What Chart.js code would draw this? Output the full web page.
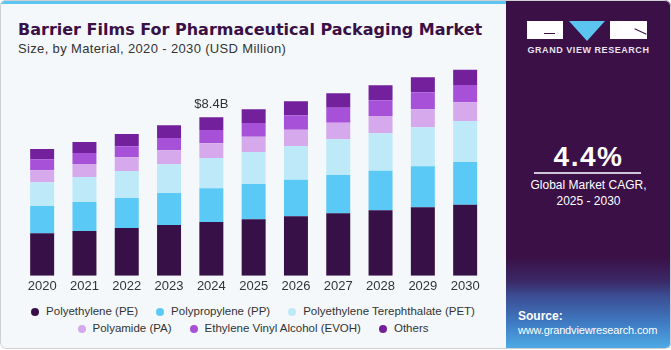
<!DOCTYPE html>
<html>
<head>
<meta charset="utf-8">
<script src="https://cdn.jsdelivr.net/npm/chart.js@4.4.1/dist/chart.umd.min.js"></script>
<style>
  html, body { margin: 0; padding: 0; background: #ffffff; }
  body { width: 671px; height: 350px; overflow: hidden; font-family: "Liberation Sans", Arial, sans-serif; }
  .card { position: absolute; left: 0; top: 0; width: 671px; height: 349px; background: #f4f8fb; border-radius: 6px; overflow: hidden; }
  .frame { position: absolute; left: 0; top: 0; width: 669px; height: 347px; border: 1px solid #cdd1d4; border-radius: 6px; z-index: 5; pointer-events: none; }
  .stripe { position: absolute; left: 0; top: 0; width: 506px; height: 4px; background: #5bc4ef; }
  .title { position: absolute; left: 18px; top: 20px; margin: 0; font-family: "DejaVu Sans", sans-serif; font-size: 16px; font-weight: bold; color: #3a1047; white-space: nowrap; }
  .subtitle { position: absolute; left: 18px; top: 41px; font-size: 13px; letter-spacing: 0.35px; color: #333; white-space: nowrap; }
  #myChart { position: absolute; left: 0; top: 0; }
  .legend { position: absolute; left: 18px; top: 303px; width: 470px; display: flex; flex-wrap: wrap; justify-content: center; column-gap: 18px; }
  .legend .item { display: flex; align-items: center; font-size: 11.5px; line-height: 17px; color: #333; white-space: nowrap; }
  .legend .dot { width: 8px; height: 8px; border-radius: 50%; margin-right: 7px; }
  .side { position: absolute; left: 506px; top: 0; width: 165px; height: 348px; border-radius: 0 6px 0 0;
    background: linear-gradient(to bottom, #3a1047 0%, #3a1047 74%, #3b2a68 81%, #3b4c92 85%, #3f7cc4 93%, #4eaae4 100%); color: #fff; }
  .logo { position: absolute; top: 21px; height: 18px; }
  .g { left: 21px; width: 36px; background: #fff; }
  .g::after { content: ""; position: absolute; left: 17px; top: 12px; width: 11px; height: 1px; background: #3a1047; }
  .v { left: 63px; width: 0; height: 0; border-left: 18px solid transparent; border-right: 18px solid transparent; border-top: 20px solid #5bc4ef; }
  .e { left: 104px; width: 37px; background: #fff; }
  .e::after { content: ""; position: absolute; left: 24px; top: 10px; width: 13px; height: 1px; background: #3a1047; transform: rotate(25deg); }
  .brand { position: absolute; left: 0; width: 165px; top: 45px; text-align: center; font-size: 9px; font-weight: bold; letter-spacing: 0.55px; color: #e9e4ee; }
  .cagr { position: absolute; left: 0; width: 165px; top: 141px; text-align: center; font-size: 28px; font-weight: bold; letter-spacing: 1.5px; }
  .rule { position: absolute; left: 28px; width: 107px; top: 172px; height: 2px; background: #cfc6d8; }
  .cagr-text { position: absolute; left: 0; width: 165px; top: 177px; text-align: center; font-size: 12px; line-height: 16px; }
  .source { position: absolute; left: 12px; top: 309px; font-size: 11px; letter-spacing: -0.15px; line-height: 14px; }
  .source b { display: block; font-size: 12px; letter-spacing: 0; }
</style>
</head>
<body>
<div class="card">
  <div class="stripe"></div>
  <h1 class="title">Barrier Films For Pharmaceutical Packaging Market</h1>
  <div class="subtitle">Size, by Material, 2020 - 2030 (USD Million)</div>
  <canvas id="myChart" width="506" height="300"></canvas>
  <div class="legend" id="legend"></div>
  <div class="side">
    <div class="logo g"></div>
    <div class="logo v"></div>
    <div class="logo e"></div>
    <div class="brand">GRAND VIEW RESEARCH</div>
    <div class="cagr">4.4%</div>
    <div class="rule"></div>
    <div class="cagr-text">Global Market CAGR,<br>2025 - 2030</div>
    <div class="source"><b>Source:</b>www.grandviewresearch.com</div>
  </div>
  <div class="frame"></div>
</div>
<script>
// values in USD million
const years = ['2020', '2021', '2022', '2023', '2024', '2025', '2026', '2027', '2028', '2029', '2030'];
const polyethylene = [2248, 2370, 2530, 2689, 2848, 2990, 3150, 3309, 3468, 3627, 3765];
const polypropylene = [1448, 1538, 1591, 1697, 1787, 1872, 1941, 2031, 2100, 2174, 2264];
const polyethyleneTerephthalate = [1257, 1326, 1432, 1522, 1607, 1697, 1787, 1893, 1983, 2068, 2174];
const polyamide = [636, 689, 726, 742, 780, 811, 864, 880, 917, 955, 992];
const evoh = [583, 583, 583, 652, 705, 726, 764, 795, 833, 902, 917];
const others = [546, 583, 652, 673, 673, 726, 742, 764, 795, 795, 811];

const labelYear = '2024';

const series = [
  { label: 'Polyethylene (PE)', data: polyethylene, color: '#371047' },
  { label: 'Polypropylene (PP)', data: polypropylene, color: '#5bc9f5' },
  { label: 'Polyethylene Terephthalate (PET)', data: polyethyleneTerephthalate, color: '#bde9f9' },
  { label: 'Polyamide (PA)', data: polyamide, color: '#d5a9eb' },
  { label: 'Ethylene Vinyl Alcohol (EVOH)', data: evoh, color: '#a651d8' },
  { label: 'Others', data: others, color: '#73209c' }
];

// total label above one bar
const totalLabel = {
  id: 'totalLabel',
  afterDatasetsDraw(chart) {
    const idx = years.indexOf(labelYear);
    const last = chart.getDatasetMeta(chart.data.datasets.length - 1);
    const bar = last.data[idx];
    let total = 0;
    for (let s of series) total += s.data[idx];
    const ctx = chart.ctx;
    ctx.save();
    ctx.font = '13px "Liberation Sans", Arial, sans-serif';
    ctx.fillStyle = '#333';
    ctx.textAlign = 'center';
    ctx.textBaseline = 'alphabetic';
    ctx.fillText('$' + (total / 1000).toFixed(1) + 'B', bar.x, bar.y - 9);
    ctx.restore();
  }
};

function initChart() {
  const ctx = document.getElementById('myChart').getContext('2d');

  // eslint-disable-next-line no-undef
  const chart = new Chart(ctx, {
    type: 'bar',
    data: {
      labels: years,
      datasets: series.map(s => ({
        label: s.label,
        data: s.data,
        backgroundColor: s.color,
        borderWidth: 0,
        barPercentage: 0.567,
        categoryPercentage: 1
      }))
    },
    options: {
      responsive: false,
      animation: false,
      devicePixelRatio: 1,
      // 12000 over 226.3px, baseline at y 275.7
      layout: { padding: { left: 21, right: 19.7, top: 49.4, bottom: 0 } },
      plugins: {
        legend: { display: false },
        tooltip: { enabled: false }
      },
      scales: {
        x: {
          stacked: true,
          grid: { display: false, drawTicks: false },
          border: { display: false },
          ticks: { color: '#333', font: { family: '"Liberation Sans", Arial, sans-serif', size: 13 }, padding: 3, maxRotation: 0 },
          afterFit: s => { s.height = 24.3; }
        },
        y: { stacked: true, display: false, min: 0, max: 12000 }
      }
    },
    plugins: [totalLabel]
  });

  // html legend from the datasets
  const legend = document.getElementById('legend');
  chart.data.datasets.forEach(ds => {
    const item = document.createElement('div');
    item.className = 'item';
    const dot = document.createElement('span');
    dot.className = 'dot';
    dot.style.background = ds.backgroundColor;
    item.appendChild(dot);
    item.appendChild(document.createTextNode(ds.label));
    legend.appendChild(item);
  });
}

initChart();
</script>
</body>
</html>
